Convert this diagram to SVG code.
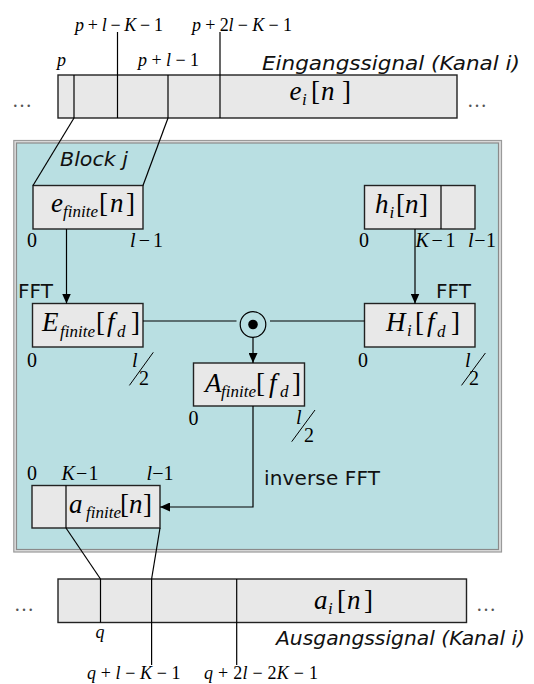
<svg xmlns="http://www.w3.org/2000/svg" width="534" height="684" viewBox="0 0 534 684">
<style>
.box{fill:#e8e8e8;stroke:#222;stroke-width:1.4}
.ln{fill:none;stroke:#000;stroke-width:1.2}
.m{font-family:"Liberation Serif","Times New Roman",serif;font-size:27px;fill:#000}
.lab{font-family:"Liberation Serif","Times New Roman",serif;font-size:20px;fill:#000}
.sm{font-family:"Liberation Serif","Times New Roman",serif;font-size:18px;fill:#000}
.i{font-style:italic}
.sub{font-size:17px;font-style:italic}
.sans{font-family:"DejaVu Sans",Verdana,sans-serif;font-size:20px;fill:#111}
.dots{font-family:"Liberation Serif",serif;font-size:20px;fill:#555}
</style>
<defs>
<marker id="ah" markerUnits="userSpaceOnUse" markerWidth="10" markerHeight="9" refX="10" refY="4.5" orient="auto">
<path d="M0,0 L10,4.5 L0,9 z" fill="#000"/>
</marker>
</defs>

<g id="input-signal">
<rect class="box" x="58" y="75" width="399" height="43"/>
<line class="ln" x1="74" y1="75" x2="74" y2="118"/>
<line class="ln" x1="117.5" y1="32" x2="117.5" y2="118"/>
<line class="ln" x1="168" y1="75" x2="168" y2="118"/>
<line class="ln" x1="220" y1="32" x2="220" y2="118"/>
<text class="m" y="100"><tspan class="i" x="289.5">e</tspan><tspan class="sub" x="302" y="105" font-size="16">i</tspan><tspan x="311" y="100">[</tspan><tspan class="i" x="321">n</tspan><tspan x="342">]</tspan></text>
<text class="sm" x="75" y="31" textLength="88" lengthAdjust="spacing"><tspan class="i">p</tspan> + <tspan class="i">l</tspan> − <tspan class="i">K</tspan> − 1</text>
<text class="sm" x="192" y="31" textLength="100" lengthAdjust="spacing"><tspan class="i">p</tspan> + 2<tspan class="i">l</tspan> − <tspan class="i">K</tspan> − 1</text>
<text class="sm i" x="57" y="66">p</text>
<text class="sm" x="138" y="66" textLength="61" lengthAdjust="spacing"><tspan class="i">p</tspan> + <tspan class="i">l</tspan> − 1</text>
<text class="sans i" x="262" y="69.5" textLength="258" lengthAdjust="spacingAndGlyphs">Eingangssignal (Kanal i)</text>
<text class="dots" x="12" y="107">…</text>
<text class="dots" x="467" y="107">…</text>
</g>

<g id="block">
<rect x="13.8" y="140.5" width="487.7" height="411.5" fill="#dedede" stroke="#9a9a9a" stroke-width="1.2"/>
<rect x="16.5" y="143" width="482" height="406.5" fill="#b9dfe2" stroke="#8a8a8a" stroke-width="1.2"/>
<text class="sans i" x="60" y="166" textLength="68" lengthAdjust="spacingAndGlyphs">Block j</text>
</g>

<g id="e-finite">
<rect class="box" x="33" y="185.5" width="110" height="43.5"/>
<text class="m" y="212"><tspan class="i" x="51">e</tspan><tspan class="sub" x="63" y="217">finite</tspan><tspan x="99" y="212">[</tspan><tspan class="i" x="110">n</tspan><tspan x="126">]</tspan></text>
<text class="lab" x="27" y="247">0</text>
<text class="lab" x="130" y="247" textLength="33" lengthAdjust="spacing"><tspan class="i">l</tspan> − 1</text>
</g>

<g id="h-i">
<rect class="box" x="364.5" y="185.5" width="110.5" height="43.5"/>
<line class="ln" x1="441" y1="185.5" x2="441" y2="229"/>
<text class="m" y="213"><tspan class="i" x="375">h</tspan><tspan class="sub" x="389.5" y="218" font-size="16">i</tspan><tspan x="396" y="213">[</tspan><tspan class="i" x="405">n</tspan><tspan x="419">]</tspan></text>
<text class="lab" x="359" y="247">0</text>
<text class="lab" x="415.5" y="247" textLength="40" lengthAdjust="spacing"><tspan class="i">K</tspan> − 1</text>
<text class="lab" x="468" y="247" textLength="28" lengthAdjust="spacing"><tspan class="i">l</tspan> − 1</text>
</g>

<g id="E-finite">
<rect class="box" x="32.5" y="303.5" width="110.5" height="43.5"/>
<text class="m" y="331"><tspan class="i" x="42">E</tspan><tspan class="sub" x="60" y="337">finite</tspan><tspan x="96" y="331">[</tspan><tspan class="i" x="107">f</tspan><tspan class="sub" x="117" y="337" font-size="16">d</tspan><tspan x="131" y="331">]</tspan></text>
<text class="lab" x="27" y="366.5">0</text>
<text class="lab i" x="132" y="366.5">l</text>
<line x1="129.4" y1="385.4" x2="153.3" y2="352.3" stroke="#000" stroke-width="1"/>
<text class="lab" x="139" y="385">2</text>
<text class="sans" x="18" y="297.5">FFT</text>
</g>

<g id="H-i">
<rect class="box" x="364.5" y="303.5" width="110.5" height="43.5"/>
<text class="m" y="331"><tspan class="i" x="386">H</tspan><tspan class="sub" x="407" y="336" font-size="16">i</tspan><tspan x="415" y="331">[</tspan><tspan class="i" x="427">f</tspan><tspan class="sub" x="437" y="337" font-size="16">d</tspan><tspan x="451" y="331">]</tspan></text>
<text class="lab" x="358" y="366.5">0</text>
<text class="lab i" x="465" y="366.5">l</text>
<line x1="461.5" y1="385.4" x2="485.4" y2="353" stroke="#000" stroke-width="1"/>
<text class="lab" x="469" y="385">2</text>
<text class="sans" x="436" y="297.5">FFT</text>
</g>

<g id="multiply">
<circle cx="253" cy="324.5" r="12.8" fill="none" stroke="#000" stroke-width="1.2"/>
<circle cx="253" cy="324.5" r="4.8" fill="#000"/>
</g>

<g id="A-finite">
<rect class="box" x="193.5" y="363" width="111" height="43"/>
<text class="m" y="392"><tspan class="i" x="205">A</tspan><tspan class="sub" x="221" y="397">finite</tspan><tspan x="256" y="392">[</tspan><tspan class="i" x="269">f</tspan><tspan class="sub" x="280" y="397" font-size="16">d</tspan><tspan x="292" y="392">]</tspan></text>
<text class="lab" x="188.5" y="425">0</text>
<text class="lab i" x="296" y="423.5">l</text>
<line x1="291.7" y1="441.7" x2="315" y2="410" stroke="#000" stroke-width="1"/>
<text class="lab" x="304" y="441.5">2</text>
<text class="sans" x="264" y="485" textLength="116" lengthAdjust="spacing">inverse FFT</text>
</g>

<g id="a-finite">
<rect class="box" x="32" y="485.5" width="128" height="42.5"/>
<line class="ln" x1="66" y1="485.5" x2="66" y2="528"/>
<text class="m" y="513"><tspan class="i" x="69">a</tspan><tspan class="sub" x="86" y="518">finite</tspan><tspan x="120" y="513">[</tspan><tspan class="i" x="129">n</tspan><tspan x="143">]</tspan></text>
<text class="lab" x="27" y="480">0</text>
<text class="lab" x="61.5" y="480" textLength="37" lengthAdjust="spacing"><tspan class="i">K</tspan> − 1</text>
<text class="lab" x="146.5" y="480" textLength="27" lengthAdjust="spacing"><tspan class="i">l</tspan> − 1</text>
</g>

<g id="output-signal">
<rect class="box" x="58" y="579" width="408.5" height="43.5"/>
<line class="ln" x1="100.5" y1="579" x2="100.5" y2="622.5"/>
<line class="ln" x1="151.6" y1="579" x2="151.6" y2="665"/>
<line class="ln" x1="236.7" y1="579" x2="236.7" y2="665"/>
<text class="m" y="609"><tspan class="i" x="314">a</tspan><tspan class="sub" x="328" y="614" font-size="16">i</tspan><tspan x="337" y="609">[</tspan><tspan class="i" x="347">n</tspan><tspan x="364">]</tspan></text>
<text class="sm i" x="95.5" y="638">q</text>
<text class="sans i" x="276" y="645" textLength="249" lengthAdjust="spacingAndGlyphs">Ausgangssignal (Kanal i)</text>
<text class="sm" x="87" y="679" textLength="93.5" lengthAdjust="spacing"><tspan class="i">q</tspan> + <tspan class="i">l</tspan> − <tspan class="i">K</tspan> − 1</text>
<text class="sm" x="204" y="679" textLength="114" lengthAdjust="spacing"><tspan class="i">q</tspan> + 2<tspan class="i">l</tspan> − 2<tspan class="i">K</tspan> − 1</text>
<text class="dots" x="14" y="611">…</text>
<text class="dots" x="476" y="611">…</text>
</g>

<g id="connectors">
<line class="ln" x1="74" y1="118" x2="33" y2="185.5"/>
<line class="ln" x1="168" y1="118" x2="143" y2="185.5"/>
<line class="ln" x1="66.5" y1="229" x2="66.5" y2="303.5" marker-end="url(#ah)"/>
<line class="ln" x1="415" y1="229" x2="415" y2="303.5" marker-end="url(#ah)"/>
<line class="ln" x1="143" y1="321" x2="236.5" y2="321"/>
<line class="ln" x1="270" y1="321" x2="364.5" y2="321"/>
<line class="ln" x1="253" y1="337.3" x2="253" y2="363" marker-end="url(#ah)"/>
<polyline class="ln" points="253,406 253,507 160,507" marker-end="url(#ah)"/>
<line class="ln" x1="66" y1="528" x2="100.5" y2="579"/>
<line class="ln" x1="160" y1="528" x2="151.6" y2="579"/>
</g>
</svg>
